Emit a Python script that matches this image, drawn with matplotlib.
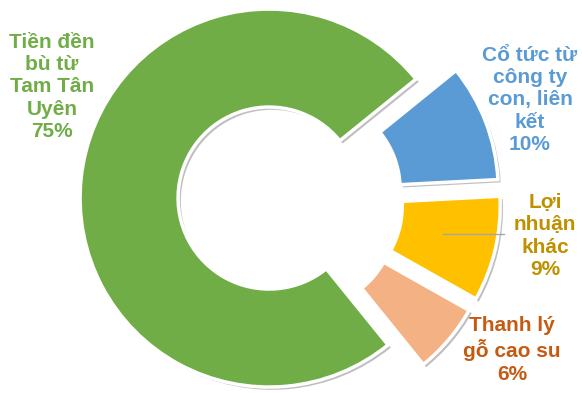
import matplotlib
matplotlib.use('Agg')
import matplotlib.pyplot as plt
import matplotlib.patheffects as pe

# data
labels = ['Cổ tức từ\ncông ty\ncon, liên\nkết', 'Lợi\nnhuận\nkhác',
          'Thanh lý\ngỗ cao su', 'Tiền đền\nbù từ\nTam Tân\nUyên']
shares = [10, 9, 6, 75]
colors = ['#5B9BD5', '#FFC000', '#F4B183', '#70AD47']
text_colors = ['#5B9BD5', '#BF9000', '#C55A11', '#70AD47']

W, H = 582, 393
R = 189
explode = [28, 29, 28, 14]
label_pos = [(530, 100), (545, 236), (512, 350), (52, 87)]

fig = plt.figure(figsize=(W / 100, H / 100), dpi=100)
ax = fig.add_axes([0, 0, 1, 1])

wedges, _ = ax.pie(shares, explode=explode, center=(283, H - 199.5), radius=R,
                   startangle=39, counterclock=False, colors=colors,
                   wedgeprops=dict(width=98, edgecolor='white', linewidth=2.5))
for w in wedges:
    w.set_path_effects([pe.SimplePatchShadow(offset=(2, -2), shadow_rgbFace='k', alpha=0.25),
                        pe.Normal()])

# leader line for "Lợi nhuận khác"
ax.plot([443, 504], [H - 234, H - 234], color='#A6A6A6', lw=1)

for lab, val, c, (x, y) in zip(labels, shares, text_colors, label_pos):
    ax.text(x, H - y, f'{lab}\n{val}%', color=c, ha='center', va='center',
            fontsize=15, fontweight='bold', family='Liberation Sans', linespacing=1.22)

ax.set_xlim(0, W)
ax.set_ylim(0, H)
ax.set_aspect('equal')
ax.axis('off')

plt.savefig('out.png', dpi=100)
